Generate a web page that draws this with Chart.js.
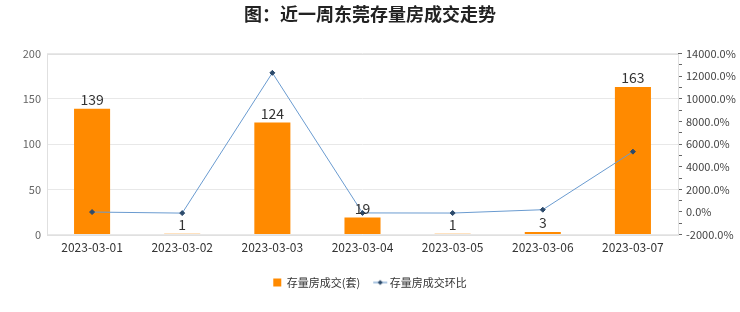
<!DOCTYPE html>
<html>
<head>
<meta charset="utf-8">
<script src="https://cdn.jsdelivr.net/npm/chart.js@4.4.0/dist/chart.umd.min.js"></script>
<style>
  html, body { margin: 0; padding: 0; background: #fff; }
  #wrap { width: 740px; height: 312px; position: relative; }
</style>
</head>
<body>
<div id="wrap"><canvas id="grafico"></canvas></div>
<script>
var fechas = ['2023-03-01', '2023-03-02', '2023-03-03', '2023-03-04', '2023-03-05', '2023-03-06', '2023-03-07'];
var cjTaos = [139, 1, 124, 19, 1, 3, 163];
var huanbi = [-5, -99.3, 12300, -84.7, -94.7, 200, 5333.3];

var fuente = '"Noto Sans CJK SC", "Noto Sans", sans-serif';

// icono de leyenda para la linea (linea con punto)
var iconoLinea = document.createElement('canvas');
iconoLinea.width = 16; iconoLinea.height = 8;
var ic = iconoLinea.getContext('2d');
ic.strokeStyle = '#5b8ec4'; ic.lineWidth = 1;
ic.beginPath(); ic.moveTo(1, 4); ic.lineTo(15, 4); ic.stroke();
ic.fillStyle = '#2c4a6b';
ic.beginPath(); ic.moveTo(8, 1.5); ic.lineTo(10.5, 4); ic.lineTo(8, 6.5); ic.lineTo(5.5, 4); ic.closePath(); ic.fill();

// etiquetas encima de las barras
var etiquetas = {
  id: 'etiquetas',
  afterDatasetsDraw: function (chart) {
    var ctx = chart.ctx;
    var meta = chart.getDatasetMeta(0);
    ctx.save();
    ctx.font = '14px ' + fuente;
    ctx.fillStyle = '#333';
    ctx.textAlign = 'center';
    ctx.textBaseline = 'bottom';
    meta.data.forEach(function (bar, i) {
      ctx.fillText(String(cjTaos[i]), bar.x, bar.y - 2);
    });
    ctx.restore();
  }
};

// marco del area del grafico
var marco = {
  id: 'marco',
  beforeDatasetsDraw: function (chart) {
    var a = chart.chartArea, ctx = chart.ctx;
    ctx.save();
    ctx.strokeStyle = '#e0e0e0';
    ctx.lineWidth = 1;
    ctx.strokeRect(Math.round(a.left) + 0.5, Math.round(a.top) + 0.5, Math.round(a.right - a.left), Math.round(a.bottom - a.top));
    ctx.restore();
  }
};

new Chart(document.getElementById('grafico').getContext('2d'), {
  data: {
    labels: fechas,
    datasets: [
      {
        type: 'bar',
        label: '存量房成交(套)',
        data: cjTaos,
        backgroundColor: '#ff8a00',
        barPercentage: 0.4,
        categoryPercentage: 1,
        yAxisID: 'y',
        order: 2
      },
      {
        type: 'line',
        label: '存量房成交环比',
        data: huanbi,
        borderColor: '#6a9bd0',
        borderWidth: 1,
        pointStyle: 'rectRot',
        pointRadius: 2.5,
        pointBackgroundColor: '#2c4a6b',
        pointBorderColor: '#2c4a6b',
        tension: 0,
        yAxisID: 'y1',
        order: 1
      }
    ]
  },
  options: {
    responsive: true,
    maintainAspectRatio: false,
    animation: false,
    layout: { padding: { left: 0, right: 0, top: 3, bottom: 14 } },
    scales: {
      x: {
        grid: { display: false, drawTicks: false },
        border: { display: false },
        ticks: { color: '#333', font: { size: 12, family: fuente }, padding: 6, maxRotation: 0 }
      },
      y: {
        position: 'left',
        min: 0, max: 200,
        ticks: { stepSize: 50, color: '#666', font: { size: 11, family: fuente }, padding: 6 },
        grid: { color: '#e8e8e8', drawTicks: false },
        border: { display: false },
        afterFit: function (s) { s.width = 47; }
      },
      y1: {
        position: 'right',
        min: -2000, max: 14000,
        ticks: {
          stepSize: 1000,
          color: '#444',
          font: { size: 11, family: fuente },
          padding: 4,
          autoSkip: false,
          callback: function (v) { return (v % 2000 === 0) ? v.toFixed(1) + '%' : ''; }
        },
        grid: { drawOnChartArea: false, drawTicks: true, tickLength: 4, color: '#666' },
        border: { display: false },
        afterFit: function (s) { s.width = 62; }
      }
    },
    plugins: {
      title: {
        display: true,
        text: '图：近一周东莞存量房成交走势',
        color: '#222',
        font: { size: 18, weight: 'bold', family: fuente },
        padding: { top: 0, bottom: 29 }
      },
      legend: {
        position: 'bottom',
        labels: {
          color: '#333',
          font: { size: 11, family: fuente },
          usePointStyle: true,
          boxWidth: 8,
          boxHeight: 8,
          padding: 16,
          generateLabels: function (chart) {
            return [
              { text: '存量房成交(套)', fillStyle: '#ff8a00', strokeStyle: '#ff8a00', lineWidth: 0, pointStyle: 'rect', datasetIndex: 0, fontColor: '#333' },
              { text: '存量房成交环比', pointStyle: iconoLinea, datasetIndex: 1, fontColor: '#333', lineWidth: 0 }
            ];
          }
        }
      },
      tooltip: { enabled: false }
    }
  },
  plugins: [marco, etiquetas]
});
</script>
</body>
</html>
